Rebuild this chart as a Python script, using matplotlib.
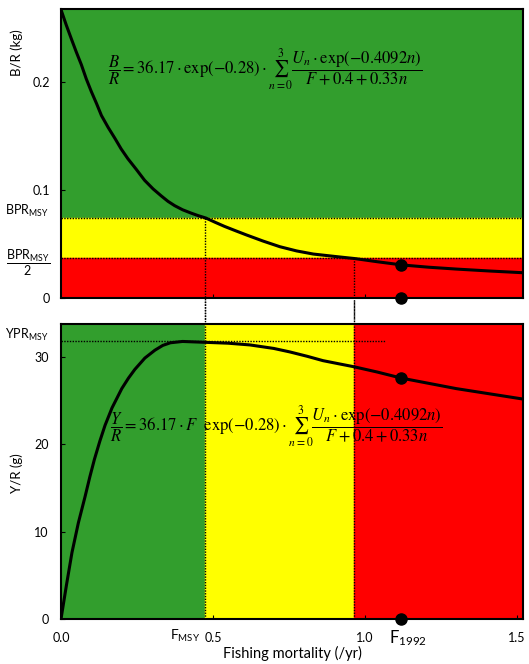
import matplotlib
matplotlib.use("Agg")
import matplotlib.pyplot as plt

plt.rcParams["font.family"] = ["Lato", "DejaVu Sans"]
plt.rcParams["mathtext.fontset"] = "stix"

# values
f_br = [0, 0.017, 0.034, 0.050, 0.067, 0.083, 0.100, 0.117, 0.133, 0.155,
        0.177, 0.198, 0.220, 0.248, 0.275, 0.303, 0.330, 0.352, 0.374, 0.400,
        0.429, 0.452, 0.477, 0.508, 0.538, 0.575, 0.611, 0.665, 0.720, 0.775,
        0.830, 0.900, 0.967, 1.040, 1.122, 1.210, 1.300, 1.410, 1.52]
br = [0.267, 0.253, 0.240, 0.228, 0.216, 0.203, 0.191, 0.180, 0.169, 0.158,
      0.148, 0.138, 0.129, 0.119, 0.109, 0.101, 0.0945, 0.0895, 0.0855, 0.0817,
      0.0785, 0.0762, 0.074, 0.070, 0.0663, 0.0622, 0.0583, 0.0527, 0.0475, 0.0436,
      0.0407, 0.0385, 0.0365, 0.0336, 0.0306, 0.0285, 0.0268, 0.025, 0.0234]

f_yr = [0, 0.018, 0.036, 0.057, 0.079, 0.095, 0.11, 0.128, 0.145, 0.168,
        0.2, 0.222, 0.243, 0.276, 0.309, 0.335, 0.36, 0.40, 0.475, 0.55,
        0.622, 0.70, 0.753, 0.81, 0.862, 0.92, 0.964, 1.04, 1.12, 1.21,
        1.30, 1.41, 1.52]
yr = [0, 3.9, 7.6, 11.0, 14.0, 16.3, 18.3, 20.4, 22.2, 24.2,
      26.4, 27.6, 28.6, 29.9, 30.8, 31.35, 31.65, 31.8, 31.7, 31.6,
      31.4, 31.0, 30.6, 30.1, 29.6, 29.2, 28.9, 28.3, 27.6, 27.0,
      26.4, 25.8, 25.2]

bpr_msy = 0.074
ypr_msy = 31.8
f_msy = 0.475
f_lim = 0.965
f_1992 = 1.12
br_1992 = 0.0306
yr_1992 = 27.6

GREEN = "#329E2D"
YELLOW = "#FFFF00"
RED = "#FF0000"
xmax = 1.52
dots = (0, (1, 1))

fig = plt.figure(figsize=(5.29, 6.64), dpi=100)
ax1 = fig.add_axes([61 / 529, 1 - 298 / 664, 462 / 529, 289 / 664])
ax2 = fig.add_axes([61 / 529, 1 - 619 / 664, 462 / 529, 295 / 664])

# ---- top panel: B/R
ax1.set_xlim(0, xmax)
ax1.set_ylim(0, 0.2676)
ax1.axhspan(bpr_msy, 0.2676, color=GREEN, zorder=0)
ax1.axhspan(bpr_msy / 2, bpr_msy, color=YELLOW, zorder=0)
ax1.axhspan(0, bpr_msy / 2, color=RED, zorder=0)
ax1.axhline(bpr_msy, color="k", ls=dots, lw=1, zorder=1)
ax1.axhline(bpr_msy / 2, color="k", ls=dots, lw=1, zorder=1)
ax1.plot([f_msy, f_msy], [bpr_msy, -0.02], color="k", ls=dots, lw=1,
         clip_on=False, zorder=1)
ax1.plot([f_lim, f_lim], [bpr_msy / 2, -0.02], color="k", ls=dots, lw=1,
         clip_on=False, zorder=1)
ax1.plot(f_br, br, color="k", lw=2.2, zorder=3, solid_joinstyle="round")
ax1.plot([f_1992], [br_1992], "o", color="k", ms=8, zorder=4)
ax1.plot([f_1992], [0], "o", color="k", ms=8, clip_on=False, zorder=4)
ax1.set_yticks([0, 0.1, 0.2])
ax1.set_yticklabels(["0", "0.1", "0.2"])
ax1.set_xticks([0.5, 1.0])
ax1.set_xticklabels([])
ax1.tick_params(direction="in", length=3, labelsize=9, pad=8)
ax1.text(-0.04, bpr_msy + 0.007, r"$\mathregular{BPR_{MSY}}$", ha="right",
         va="center", fontsize=9, clip_on=False)
ax1.text(-0.035, bpr_msy / 2 - 0.005,
         r"$\dfrac{\mathregular{BPR_{MSY}}}{\mathregular{2}}$", ha="right",
         va="center", fontsize=9, clip_on=False)
ax1.text(0.155, 0.211,
         r"$\dfrac{B}{R} = 36.17 \cdot \exp(-0.28) \cdot \sum_{n=0}^{3}"
         r"\dfrac{U_n \cdot \exp(-0.4092n)}{F + 0.4 + 0.33n}$",
         ha="left", va="center", fontsize=12, zorder=5)
fig.text(17 / 529, 1 - 53 / 664, "B/R (kg)", rotation=90, ha="center",
         va="center", fontsize=9.5)

# ---- bottom panel: Y/R
ax2.set_xlim(0, xmax)
ax2.set_ylim(0, 33.8)
ax2.axvspan(0, f_msy, color=GREEN, zorder=0)
ax2.axvspan(f_msy, f_lim, color=YELLOW, zorder=0)
ax2.axvspan(f_lim, xmax, color=RED, zorder=0)
ax2.plot([f_msy, f_msy], [0, 36.5], color="k", ls=dots, lw=1,
         clip_on=False, zorder=1)
ax2.plot([f_lim, f_lim], [0, 36.5], color="k", ls=dots, lw=1,
         clip_on=False, zorder=1)
ax2.plot([0, 1.066], [ypr_msy, ypr_msy], color="k", ls=dots, lw=1, zorder=1)
ax2.plot(f_yr, yr, color="k", lw=2.2, zorder=3, solid_joinstyle="round")
ax2.plot([f_1992], [yr_1992], "o", color="k", ms=8, zorder=4)
ax2.plot([f_1992], [0], "o", color="k", ms=8, clip_on=False, zorder=4)
ax2.set_yticks([0, 10, 20, 30])
ax2.set_xticks([0, 0.5, 1.0, 1.5])
ax2.set_xticklabels(["0.0", "0.5", "1.0", "1.5"])
ax2.tick_params(direction="in", length=3, labelsize=9, pad=9)
ax2.text(-0.04, ypr_msy + 0.8, r"$\mathregular{YPR_{MSY}}$", ha="right",
         va="center", fontsize=9, clip_on=False)
ax2.text(f_msy - 0.015, -1.0, r"$\mathregular{F_{MSY}}$", ha="right", va="top",
         fontsize=10, clip_on=False)
ax2.text(f_1992 - 0.04, -1.1, r"$\mathregular{F_{1992}}$", ha="left", va="top",
         fontsize=12, clip_on=False)
ax2.text(0.161, 22.0,
         r"$\dfrac{Y}{R} = 36.17 \cdot F\ \ \exp(-0.28) \cdot \sum_{n=0}^{3}"
         r"\dfrac{U_n \cdot \exp(-0.4092n)}{F + 0.4 + 0.33n}$",
         ha="left", va="center", fontsize=12, zorder=5)
ax2.set_xlabel("Fishing mortality (/yr)", fontsize=10.5, labelpad=2)
fig.text(17 / 529, 1 - 473 / 664, "Y/R (g)", rotation=90, ha="center",
         va="center", fontsize=9.5)

for ax in (ax1, ax2):
    for s in ax.spines.values():
        s.set_linewidth(1.5)
        s.set_zorder(6)

fig.savefig("out.png", dpi=100)
